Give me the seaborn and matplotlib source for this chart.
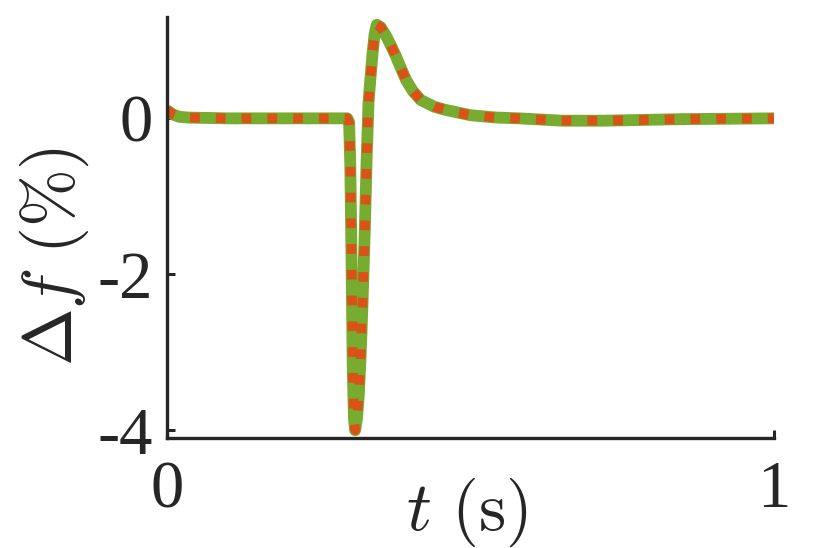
import numpy as np
import pandas as pd
import seaborn as sns
import matplotlib.pyplot as plt

# valeurs
t = [0.000, 0.004, 0.010, 0.020, 0.035, 0.100, 0.200, 0.297, 0.300, 0.302,
     0.304, 0.306, 0.308, 0.310, 0.313, 0.316, 0.319, 0.322, 0.326, 0.329,
     0.332, 0.335, 0.339, 0.342, 0.3455, 0.352, 0.360, 0.368, 0.377, 0.385,
     0.394, 0.405, 0.418, 0.440, 0.458, 0.500, 0.543, 0.580, 0.650, 0.720,
     0.850, 1.000]
df_model = [0.10, 0.08, 0.05, 0.02, 0.01, 0.00, 0.00, 0.00, -0.05, -0.60,
            -1.80, -3.20, -3.85, -4.00, -3.85, -3.55, -3.05, -2.40, -1.40, -0.50,
            0.20, 0.50, 0.86, 1.08, 1.20, 1.17, 1.07, 0.95, 0.80, 0.65,
            0.49, 0.35, 0.235, 0.15, 0.11, 0.04, 0.01, 0.00, -0.03, -0.03,
            -0.01, 0.00]
df_sim = [0.12, 0.08, 0.05, 0.02, 0.01, 0.00, 0.00, 0.00, -0.05, -0.60,
          -1.80, -3.20, -3.85, -4.00, -3.85, -3.55, -3.05, -2.40, -1.40, -0.50,
          0.20, 0.50, 0.86, 1.08, 1.20, 1.17, 1.07, 0.95, 0.80, 0.65,
          0.49, 0.35, 0.235, 0.15, 0.11, 0.04, 0.01, 0.00, -0.03, -0.03,
          -0.01, 0.00]
yticks = [-4, -2, 0]
ytick_labels = ['-4', '-2', '0']
xticks = [0, 1]
xtick_labels = ['0', '1']

data = pd.DataFrame({'t': t, 'model': df_model, 'sim': df_sim})

sns.set_theme(style='ticks')
plt.rcParams['font.family'] = ['Liberation Serif', 'DejaVu Serif']
plt.rcParams['mathtext.fontset'] = 'cm'
dark = '#262626'

fig = plt.figure(figsize=(8.3, 5.48), dpi=100)
ax = fig.add_axes([0.2012, 0.2007, 0.7313, 0.7683])

sns.lineplot(data=data, x='t', y='model', ax=ax, color='#77AC30', lw=8.5,
             solid_capstyle='round', solid_joinstyle='round', sort=False)
sns.lineplot(data=data, x='t', y='sim', ax=ax, color='#D95319', lw=7,
             linestyle=':', dash_capstyle='butt', sort=False)

ax.set_xlim(0, 1)
ax.set_ylim(-4.1, 1.3)
ax.set_xticks(xticks)
ax.set_xticklabels(xtick_labels)
ax.set_yticks(yticks)
ax.set_yticklabels(ytick_labels)
ax.tick_params(direction='in', length=6, width=2.2, colors=dark, labelsize=48,
               labelcolor=dark)
ax.tick_params(axis='x', pad=16)
ax.tick_params(axis='y', pad=10)
for s in ['left', 'bottom']:
    ax.spines[s].set_linewidth(2.4)
    ax.spines[s].set_color(dark)
sns.despine(ax=ax)

ax.set_xlabel(r'$t\ (\mathrm{s})$', fontsize=50, color=dark, va='center')
ax.set_ylabel(r'$\Delta f\ (\%)$', fontsize=50, color=dark, va='center')
ax.xaxis.set_label_coords(0.494, -0.176)
ax.yaxis.set_label_coords(-0.186, 0.432)

plt.savefig('out.png', dpi=100)
